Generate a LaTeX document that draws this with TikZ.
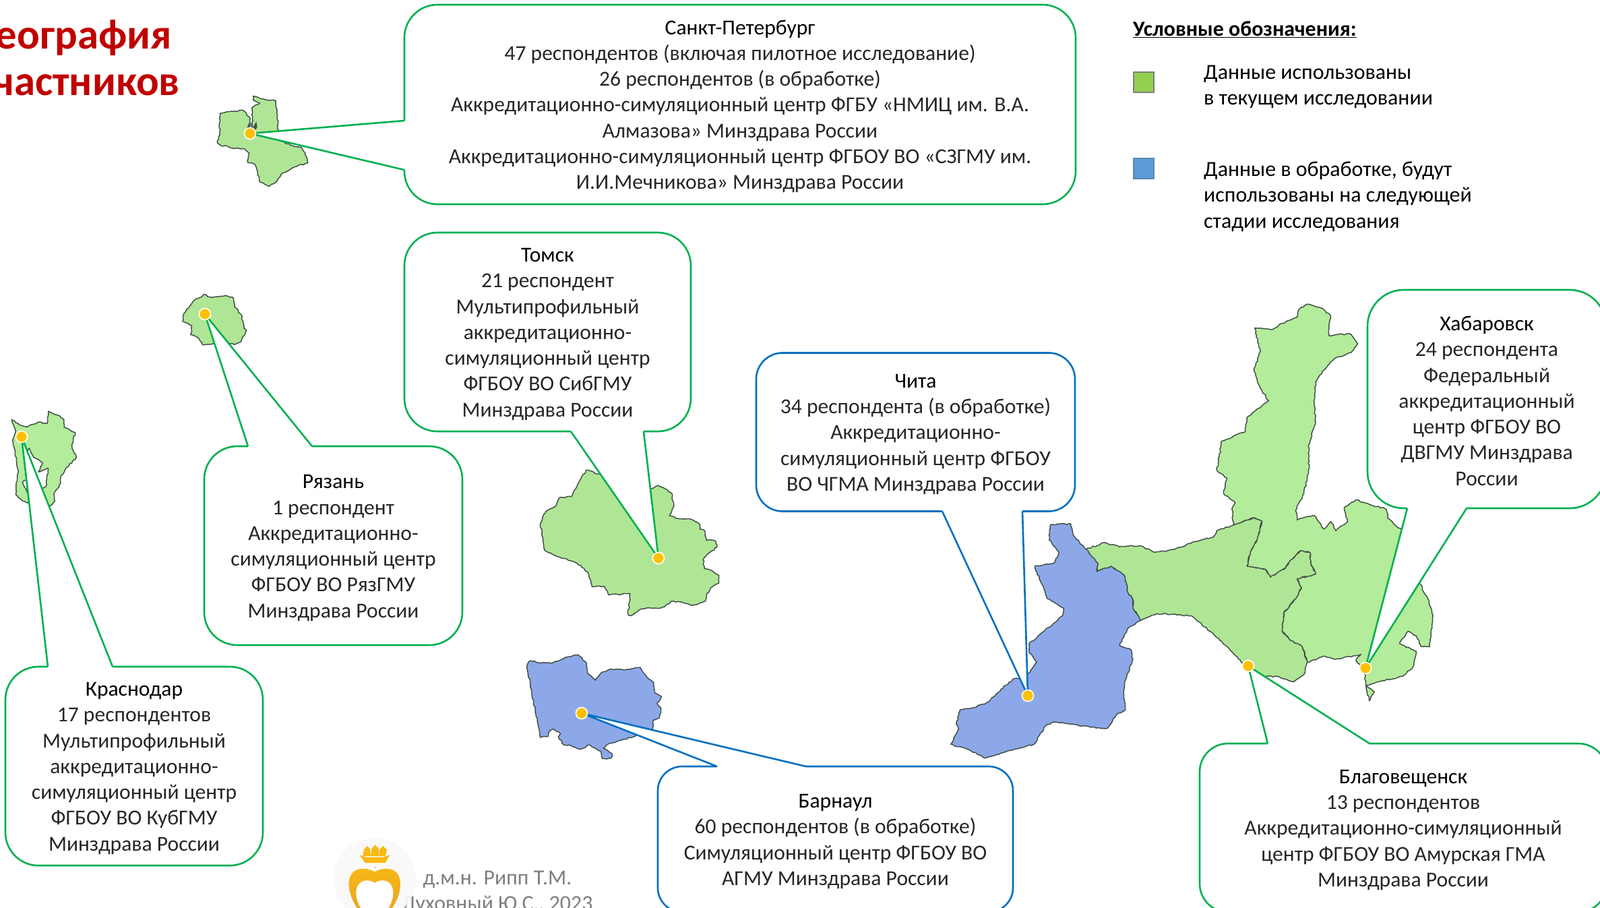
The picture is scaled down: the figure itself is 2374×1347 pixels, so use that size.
\documentclass[tikz,border=0pt]{standalone}
\usepackage{fontspec}
\setmainfont{Carlito}
\usetikzlibrary{decorations.pathmorphing}
\definecolor{cgreen}{HTML}{00B050}
\definecolor{cblue}{HTML}{0070C0}
\definecolor{mapg}{HTML}{AFE695}
\definecolor{mapl}{HTML}{B3EC9A}
\definecolor{mapb}{HTML}{8CA8E8}
\definecolor{edgec}{HTML}{44504A}
\definecolor{txt}{HTML}{262626}
\definecolor{dotfill}{HTML}{FFC000}
\definecolor{titlec}{HTML}{C00000}
\definecolor{authorc}{HTML}{7F7F7F}
\definecolor{swg}{HTML}{92D050}
\definecolor{swb}{HTML}{5B9BD5}
\definecolor{swbd}{HTML}{5A86B0}
\definecolor{goldt}{HTML}{F9B914}
\definecolor{goldb}{HTML}{DD9F2E}
\newcommand\ttl[1]{\rule{0pt}{27bp}{\color{black}#1}}
\newcommand\tailc[4]{\fill[white] (#2)--(#3)--(#4)--cycle;\draw[white,line width=3.6bp] (#2)--(#4);\draw[#1,line width=2.6bp,line join=round] (#2)--(#3)--(#4);}
\tikzset{
 mapshape/.style={draw=edgec,line width=1.5bp,line join=round,decorate,decoration={random steps,segment length=3.5bp,amplitude=1bp}},
 boxc/.style={draw,fill=white,line width=2.6bp,align=center,inner sep=0pt,text=txt,font=\fontsize{31.7}{38.4}\selectfont},
 boxg/.style={boxc,draw=cgreen},
 boxb/.style={boxc,draw=cblue},
 dotc/.style={circle,fill=dotfill,draw=white,line width=1.5bp,minimum size=17bp,inner sep=0pt},
 legtext/.style={anchor=base west,align=left,inner sep=0pt,text=black,font=\fontsize{32}{38.4}\selectfont},
 titlet/.style={anchor=base east,inner sep=0pt,text=titlec,font=\fontsize{63}{68}\selectfont\bfseries},
 swatch/.style={line width=2bp,minimum size=30bp,inner sep=0pt},
 authort/.style={anchor=base,inner sep=0pt,text=authorc,font=\fontsize{32}{38.4}\selectfont},
}
\begin{document}
\begin{tikzpicture}[x=1bp,y=-1bp]
\clip (0,0) rectangle (2374,1347);
\fill[white] (0,0) rectangle (2374,1347);
% title
\node[titlet] (t1) at (255,72.5) {География};
\node[titlet] (t2) at (267,141.5) {участников};
% maps
\begin{scope}[shift={(1380,420)},x=0.4975bp,y=-0.4591bp]
\path[fill=mapl,mapshape] (968,145)--(1020,150)--(1050,130)--(1095,110)--(1100,85)--(1125,68)--(1165,80)--(1195,105)--(1190,145)--(1190,170)--(1220,165)--(1255,165)--(1275,195)--(1255,225)--(1205,245)--(1170,285)--(1150,320)--(1145,380)--(1150,450)--(1130,520)--(1130,600)--(1115,680)--(1090,735)--(1095,765)--(1145,750)--(1175,795)--(1195,770)--(1210,800)--(1235,780)--(1245,770)--(1235,725)--(1270,700)--(1310,715)--(1360,730)--(1365,760)--(1395,790)--(1410,795)--(1460,970)--(1485,1020)--(1500,1075)--(1490,1175)--(1465,1175)--(1450,1140)--(1425,1125)--(1400,1165)--(1440,1185)--(1450,1190)--(1440,1240)--(1410,1270)--(1330,1290)--(1300,1300)--(1310,1350)--(1325,1320)--(1300,1300)--(1295,1250)--(1270,1220)--(1285,1200)--(1210,1215)--(1175,1205)--(1130,1225)--(1125,1225)--(1110,1175)--(1075,1155)--(1050,1125)--(1055,1065)--(1090,1020)--(1108,985)--(1095,955)--(1150,940)--(1135,905)--(1133,870)--(1105,865)--(1075,895)--(1060,920)--(1015,950)--(1000,925)--(945,915)--(955,870)--(975,830)--(990,770)--(965,758)--(905,782)--(900,730)--(910,710)--(875,680)--(885,630)--(855,605)--(870,510)--(940,480)--(945,435)--(1010,380)--(985,340)--(965,280)--(985,220)--cycle;
\path[fill=mapg,mapshape] (465,860)--(520,838)--(565,852)--(625,848)--(670,870)--(730,860)--(790,835)--(845,820)--(855,800)--(905,782)--(965,758)--(990,770)--(975,830)--(955,870)--(945,915)--(1000,925)--(1015,950)--(1060,920)--(1075,895)--(1105,865)--(1133,870)--(1135,905)--(1150,940)--(1095,955)--(1108,985)--(1090,1020)--(1055,1065)--(1050,1125)--(1075,1155)--(1110,1175)--(1125,1225)--(1115,1265)--(1085,1288)--(1035,1270)--(1000,1272)--(950,1245)--(920,1215)--(880,1170)--(835,1125)--(780,1075)--(720,1070)--(675,1068)--(628,1090)--(605,1050)--(605,1022)--(590,1000)--(580,945)--(540,915)--(498,932)--(500,905)--cycle;
\path[fill=mapb,mapshape] (360,780)--(420,778)--(428,815)--(465,860)--(500,905)--(498,932)--(540,915)--(580,945)--(590,1000)--(605,1022)--(605,1050)--(628,1090)--(590,1115)--(565,1170)--(600,1185)--(605,1215)--(580,1290)--(578,1330)--(582,1380)--(555,1395)--(530,1438)--(480,1435)--(420,1425)--(370,1418)--(345,1430)--(310,1490)--(240,1510)--(165,1535)--(120,1510)--(62,1490)--(85,1440)--(78,1425)--(90,1378)--(130,1372)--(170,1355)--(225,1300)--(250,1278)--(285,1275)--(318,1225)--(295,1190)--(295,1165)--(340,1125)--(395,1075)--(398,1050)--(350,1020)--(312,915)--(370,905)--(385,870)--(355,830)--cycle;
\end{scope}
\begin{scope}[shift={(760,670)},x=0.3333bp,y=-0.3333bp]
\path[fill=mapg,mapshape] (330,82)--(385,100)--(620,165)--(650,150)--(680,165)--(710,185)--(720,240)--(700,285)--(740,298)--(800,302)--(835,325)--(835,345)--(855,350)--(865,395)--(905,397)--(912,425)--(870,455)--(850,480)--(855,520)--(890,530)--(920,550)--(920,585)--(885,605)--(865,640)--(860,665)--(800,685)--(770,675)--(715,665)--(665,695)--(610,695)--(575,700)--(530,730)--(515,725)--(525,660)--(525,632)--(430,638)--(410,600)--(355,600)--(340,545)--(320,520)--(270,488)--(190,462)--(145,440)--(135,380)--(125,320)--(150,265)--(190,245)--(210,205)--(265,200)--(300,130)--cycle;
\end{scope}
\begin{scope}[shift={(760,950)},x=0.3333bp,y=-0.3333bp]
\path[fill=mapb,mapshape] (65,115)--(80,90)--(120,100)--(180,100)--(240,75)--(295,65)--(330,100)--(335,145)--(370,178)--(395,145)--(430,130)--(520,130)--(570,120)--(600,165)--(630,190)--(635,235)--(665,250)--(645,280)--(662,300)--(655,345)--(628,355)--(625,395)--(550,425)--(500,440)--(420,465)--(405,480)--(445,505)--(440,525)--(400,525)--(395,495)--(345,465)--(300,485)--(265,470)--(230,465)--(205,430)--(215,415)--(185,395)--(165,405)--(160,428)--(125,432)--cycle;
\end{scope}
\begin{scope}[x=0.3954bp,y=-0.3333bp]
\path[fill=mapg,mapshape] (950,428)--(980,440)--(1035,448)--(1040,520)--(1045,590)--(1060,630)--(1100,650)--(1130,655)--(1145,680)--(1155,725)--(1115,740)--(1060,770)--(1040,805)--(1010,830)--(975,810)--(965,760)--(955,730)--(930,725)--(935,680)--(920,665)--(885,660)--(860,655)--(825,645)--(815,630)--(825,600)--(825,505)--(880,495)--(910,490)--(935,520)--(945,570)--(948,520)--(945,480)--(975,460)--(950,445)--cycle;
\fill[edgec] (925,575)--(935,545)--(942,570)--(948,570)--(962,540)--(965,565)--(955,590)--(930,590)--cycle;
\path[fill=mapg,mapshape] (765,1310)--(795,1325)--(845,1315)--(875,1325)--(880,1365)--(905,1400)--(915,1460)--(925,1470)--(905,1520)--(880,1535)--(830,1515)--(800,1530)--(760,1535)--(745,1505)--(715,1490)--(720,1450)--(685,1430)--(690,1395)--(725,1340)--(750,1325)--cycle;
\end{scope}
\begin{scope}[shift={(0,600)},x=0.3333bp,y=-0.3333bp]
\path[fill=mapl,mapshape] (52,68)--(100,95)--(120,100)--(170,78)--(210,85)--(215,30)--(265,50)--(285,70)--(285,100)--(335,125)--(320,185)--(340,235)--(290,290)--(270,325)--(270,350)--(240,400)--(245,430)--(225,450)--(130,440)--(100,430)--(70,400)--(80,290)--(65,200)--(55,160)--(70,120)--cycle;
\path[fill=white,mapshape] (130,195)--(150,235)--(190,260)--(170,300)--(215,285)--(205,365)--(125,395)--(100,345)--(125,330)--(125,200)--cycle;
\end{scope}
% authors + logo
\node[authort] (a1) at (738,1312) {д.м.н. Рипп Т.М.};
\node[authort] (a2) at (738,1350) {Духовный Ю.С., 2023};
\fill[white!97.5!black,opacity=0.9] (556,1304) circle[radius=61];
\begin{scope}[shift={(470,1230)},x=0.3333bp,y=-0.3333bp]
\shade[top color=goldt,bottom color=goldb] (258,190) .. controls (225,170) and (143,160) .. (143,245) .. controls (143,330) and (220,400) .. (258,460) .. controls (296,400) and (372,330) .. (372,245) .. controls (372,160) and (290,170) .. (258,190) -- cycle;
\fill[white] (258,240) .. controls (235,220) and (175,220) .. (175,285) .. controls (175,345) and (235,400) .. (258,450) .. controls (281,400) and (340,345) .. (340,285) .. controls (340,220) and (281,220) .. (258,240) -- cycle;
\fill[goldt] (260,170) circle[radius=3.2];
\fill[goldt] (190,115)--(220,125)--(258,125)--(295,125)--(325,115)--(305,150)--(215,150)--cycle;
\fill[goldt] (205,120)--(210,90)--(225,75)--(238,90)--(240,120)--cycle;
\fill[goldt] (240,120)--(245,85)--(260,70)--(275,85)--(278,120)--cycle;
\fill[goldt] (278,120)--(280,90)--(295,75)--(312,92)--(305,120)--cycle;
\end{scope}
% callouts
\node[boxg,minimum width=996bp,minimum height=296bp,rounded corners=49bp] (spb) at (1098,155) {\ttl{Санкт-Петербург}\\47 респондентов (включая пилотное исследование)\\26 респондентов (в обработке)\\Аккредитационно-симуляционный центр ФГБУ «НМИЦ им. В.А.\\Алмазова» Минздрава России\\Аккредитационно-симуляционный центр ФГБОУ ВО «СЗГМУ им.\\И.И.Мечникова» Минздрава России};
\node[boxg,minimum width=425bp,minimum height=295bp,rounded corners=49bp] (tomsk) at (812.5,492.5) {\ttl{Томск}\\21 респондент\\Мультипрофильный\\аккредитационно-\\симуляционный центр\\ФГБОУ ВО СибГМУ\\Минздрава России};
\node[boxg,minimum width=383bp,minimum height=295bp,rounded corners=49bp] (ryazan) at (494.5,809.5) {\ttl{Рязань}\\1 респондент\\Аккредитационно-\\симуляционный центр\\ФГБОУ ВО РязГМУ\\Минздрава России};
\node[boxg,minimum width=382bp,minimum height=295bp,rounded corners=49bp] (krasnodar) at (199,1136.5) {\ttl{Краснодар}\\17 респондентов\\Мультипрофильный\\аккредитационно-\\симуляционный центр\\ФГБОУ ВО КубГМУ\\Минздрава России};
\node[boxb,minimum width=527bp,minimum height=216bp,rounded corners=36bp] (barnaul) at (1239.5,1245) {\ttl{Барнаул}\\60 респондентов (в обработке)\\Симуляционный центр ФГБОУ ВО\\АГМУ Минздрава России};
\node[boxb,minimum width=473bp,minimum height=235bp,rounded corners=39bp] (chita) at (1358.5,641) {\ttl{Чита}\\34 респондента (в обработке)\\Аккредитационно-\\симуляционный центр ФГБОУ\\ВО ЧГМА Минздрава России};
\node[boxg,minimum width=354bp,minimum height=324bp,rounded corners=54bp] (khab) at (2206,592) {\ttl{Хабаровск}\\24 респондента\\Федеральный\\аккредитационный\\центр ФГБОУ ВО\\ДВГМУ Минздрава\\России};
\node[boxg,minimum width=604bp,minimum height=250bp,rounded corners=42bp] (blag) at (2082,1228) {\ttl{Благовещенск}\\13 респондентов\\Аккредитационно-симуляционный\\центр ФГБОУ ВО Амурская ГМА\\Минздрава России};
% dots
\node[dotc] (dspb) at (371,198) {};
\node[dotc] (dtomsk) at (977,828) {};
\node[dotc] (dryazan) at (304,466) {};
\node[dotc] (dkras) at (32,648) {};
\node[dotc] (dbarn) at (863,1058) {};
\node[dotc] (dchita) at (1525,1032) {};
\node[dotc] (dkhab) at (2026,991) {};
\node[dotc] (dblag) at (1852,988) {};
% tails
\coordinate (spba) at (600,179); \coordinate (spbb) at (600,252);
\coordinate (toa) at (847,640); \coordinate (tob) at (955,640);
\coordinate (rya) at (368,662); \coordinate (ryb) at (463,662);
\coordinate (kra) at (71,989); \coordinate (krb) at (167,989);
\coordinate (baa) at (1064,1137); \coordinate (bab) at (1196,1137);
\coordinate (cha) at (1398,758.5); \coordinate (chb) at (1517,758.5);
\coordinate (kha) at (2088,754); \coordinate (khb) at (2176,754);
\coordinate (bla) at (1881,1103); \coordinate (blb) at (2032,1103);
\tailc{cgreen}{spba}{dspb.center}{spbb}
\tailc{cgreen}{toa}{dtomsk.center}{tob}
\tailc{cgreen}{rya}{dryazan.center}{ryb}
\tailc{cgreen}{kra}{dkras.center}{krb}
\tailc{cblue}{baa}{dbarn.center}{bab}
\tailc{cblue}{cha}{dchita.center}{chb}
\tailc{cgreen}{kha}{dkhab.center}{khb}
\tailc{cgreen}{bla}{dblag.center}{blb}
\foreach \d in {dspb,dtomsk,dryazan,dkras,dbarn,dchita,dkhab,dblag} \node[dotc] at (\d) {};
% legend
\node[anchor=base west,inner sep=0pt,font=\fontsize{32}{38.4}\selectfont\bfseries] (lh) at (1681,54) {\underline{Условные обозначения:}};
\node[swatch,draw=gray,fill=swg] (s1) at (1697,122.5) {};
\node[swatch,draw=swbd,fill=swb] (s2) at (1697,250.5) {};
\node[legtext] (l1) at (1786,156) {Данные использованы\\в текущем исследовании};
\node[legtext] (l2) at (1786,338) {Данные в обработке, будут\\использованы на следующей\\стадии исследования};
\end{tikzpicture}
\end{document}
